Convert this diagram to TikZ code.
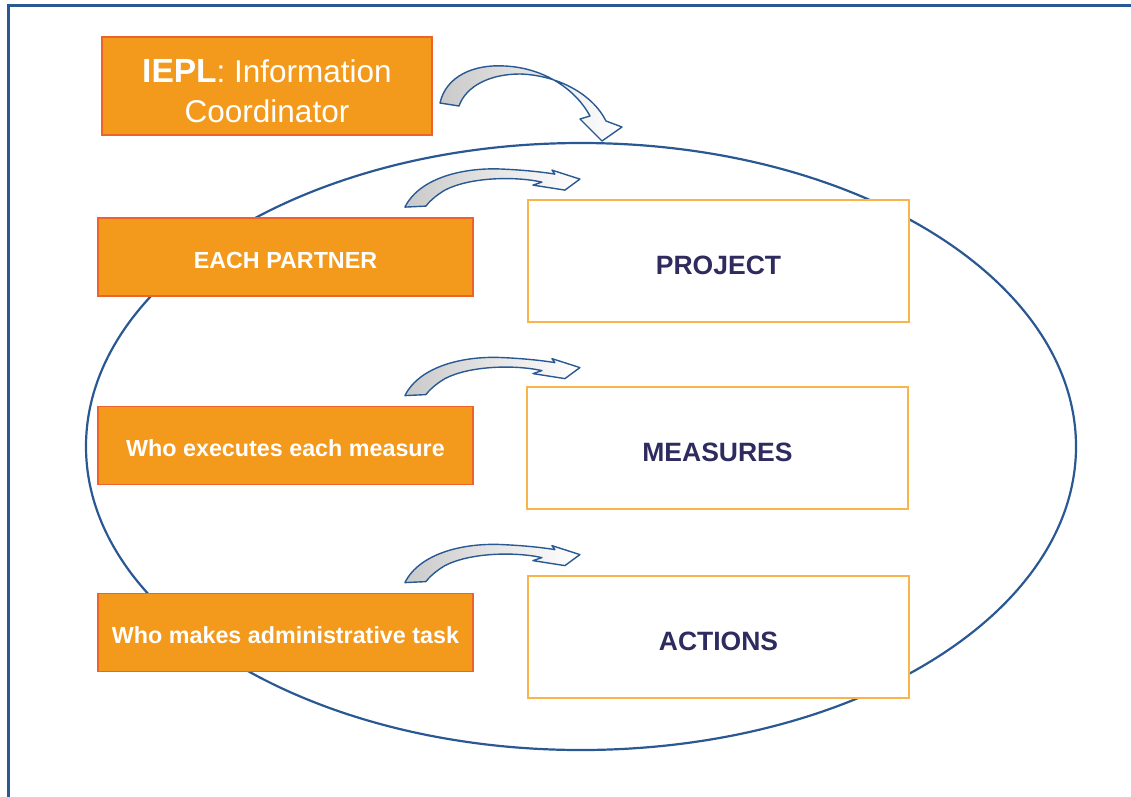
\documentclass[tikz,border=0pt]{standalone}
\usepackage{fontspec}
\setmainfont{Liberation Sans}
\usetikzlibrary{shapes.geometric,calc}
\definecolor{orangefill}{RGB}{243,153,28}
\definecolor{orangeedge}{RGB}{238,98,44}
\definecolor{boxedge}{RGB}{249,181,76}
\definecolor{navytext}{RGB}{46,43,95}
\definecolor{blueline}{RGB}{42,88,146}
\begin{document}
\begin{tikzpicture}[x=1pt,y=-1pt,
  orangebox/.style={draw=orangeedge, line width=1.8pt, fill=orangefill, text=white,
    font=\bfseries\fontsize{23.3}{27}\selectfont, inner sep=0pt, text height=22pt, text depth=0pt,
    minimum width=375pt, minimum height=78pt},
  whitebox/.style={draw=boxedge, line width=1.8pt, fill=white, text=navytext,
    font=\bfseries\fontsize{26.5}{30}\selectfont, inner sep=0pt, text height=27pt, text depth=0pt,
    minimum width=381pt, minimum height=122pt},
  blockarrow/.style={draw=blueline, line width=1.4pt, left color=gray!42, right color=white, line join=round},
  oval/.style={draw=blueline, line width=2.2pt, ellipse, inner sep=0pt, minimum width=990pt, minimum height=607pt}]
\useasboundingbox (0,0) rectangle (1131,796);
% frame
\draw[blueline, line width=3pt] (8.5,800) |- (1140,5.5);
% ellipse
\node[oval] (ring) at (581,446.5) {};
% top box
\node[draw=orangeedge, line width=1.8pt, fill=orangefill, inner sep=0pt,
  minimum width=330pt, minimum height=98pt] (iepl) at (267,86) {};
\node[text=white, inner sep=0pt, align=center, font=\fontsize{31.5}{40}\selectfont]
  (ieplt) at ($(iepl.center)+(0,5)$)
  {{\bfseries\fontsize{33.5}{40}\selectfont IEPL}: Information\\Coordinator};
% left boxes
\node[orangebox] (partner) at (285.5,257) {EACH PARTNER};
\node[orangebox] (whoexec) at (285.5,445.5) {Who executes each measure};
\node[orangebox] (whomake) at (285.5,632.5) {Who makes administrative task};
% right boxes
\node[whitebox] (project) at (718.5,261) {PROJECT};
\node[whitebox] (measures) at (717.5,448) {MEASURES};
\node[whitebox] (actions) at (718.5,637) {ACTIONS};
% big arrow
\draw[blockarrow] (440,103) .. controls (446,76) and (474,64) .. (505,66)
  .. controls (545,68) and (576,90) .. (590,116) -- (580,119) -- (602,141) -- (622,127)
  -- (606,121) .. controls (592,93) and (556,75) .. (520,74)
  .. controls (490,74) and (466,86) .. (459,106) -- cycle;
% small arrows
\foreach \b in {partner,whoexec,whomake}{
  \begin{scope}[shift={($(\b.north east)+(-69,-10)$)}]
    \draw[blockarrow] (0,0) .. controls (15,-30) and (60,-40) .. (98,-38)
      .. controls (120,-37) and (138,-35) .. (150,-33) -- (147,-37) -- (175,-28) -- (160,-17)
      -- (128,-22) -- (137,-25) .. controls (110,-31) and (65,-30) .. (40,-17)
      .. controls (30,-11) and (24,-5) .. (21,-1) -- cycle;
  \end{scope}
}
\end{tikzpicture}
\end{document}
